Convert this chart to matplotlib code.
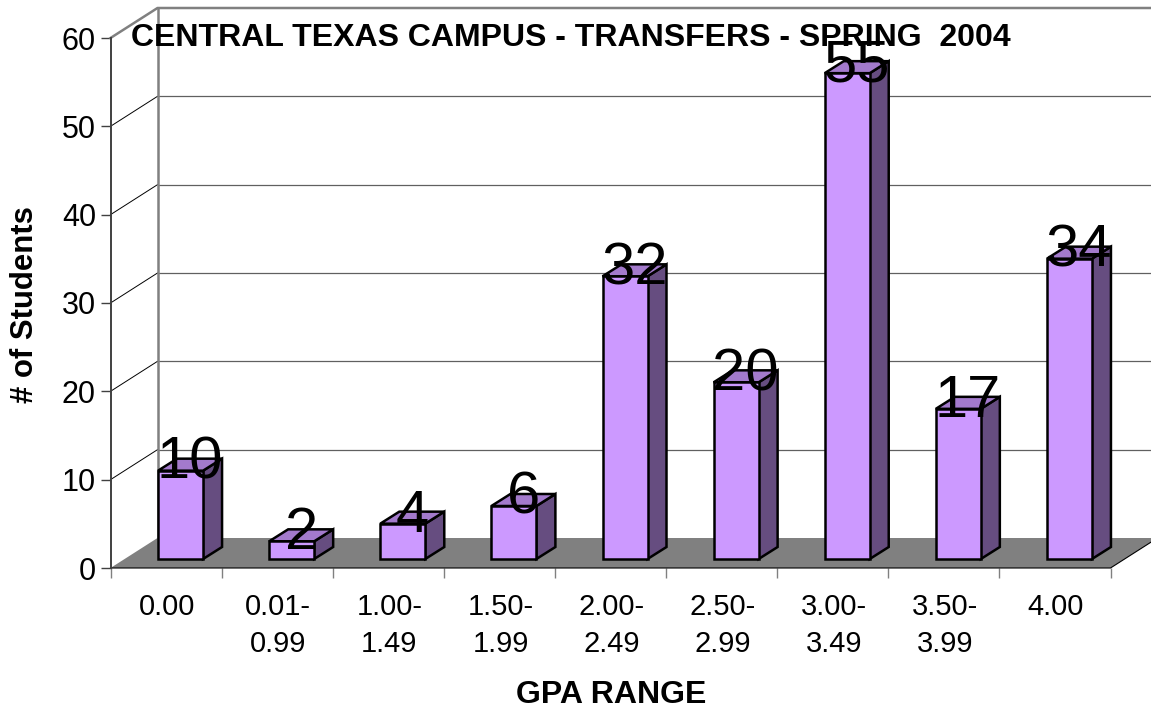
import matplotlib
matplotlib.use("Agg")
import matplotlib.pyplot as plt
from matplotlib.patches import Polygon

plt.rcParams["font.family"] = ["Liberation Sans", "DejaVu Sans"]

gpa_ranges = ["0.00", "0.01-\n0.99", "1.00-\n1.49", "1.50-\n1.99", "2.00-\n2.49",
              "2.50-\n2.99", "3.00-\n3.49", "3.50-\n3.99", "4.00"]
students = [10, 2, 4, 6, 32, 20, 55, 17, 34]
y_ticks = [0, 10, 20, 30, 40, 50, 60]

W, H = 1151, 708
# front plane of the fake 3d box, in pixels
left, right, bottom, top = 110.5, 1110.5, 568.0, 38.0
px_x = 9 / (right - left)
px_y = 60 / (bottom - top)

# offsets in data units
wall_dx, wall_dy = 47 * px_x, 30 * px_y
bar_dx, bar_dy = 19 * px_x, 12 * px_y
lift = 9 * px_y
bar_w = 45 * px_x
bar_off = (14.5 * px_x) + 0.5 - bar_w / 2

fig = plt.figure(figsize=(W / 100, H / 100), dpi=100)
ax = fig.add_axes([left / W, 1 - bottom / H, (right - left) / W, (bottom - top) / H])
ax.set_xlim(0, 9)
ax.set_ylim(0, 60)
ax.patch.set_visible(False)
for name in ["top", "right"]:
    ax.spines[name].set_visible(False)
ax.spines["left"].set_color("#404040")
ax.spines["left"].set_linewidth(1.4)
ax.spines["left"].set_zorder(6)
ax.spines["bottom"].set_visible(False)

# gridlines on back wall and side wall
for t in y_ticks[1:-1]:
    ax.plot([wall_dx, 9 + wall_dx], [t + wall_dy, t + wall_dy], color="#606060", lw=0.9, clip_on=False, zorder=1)
    ax.plot([0, wall_dx], [t, t + wall_dy], color="black", lw=0.7, clip_on=False, zorder=1)

# wall edges
ax.plot([0, wall_dx, 9 + wall_dx], [60, 60 + wall_dy, 60 + wall_dy], color="#808080", lw=1.8, clip_on=False, zorder=2)
ax.plot([wall_dx, wall_dx], [wall_dy, 60 + wall_dy], color="#808080", lw=1.8, clip_on=False, zorder=2)

# floor
ax.add_patch(Polygon([(0, 0), (9, 0), (9 + wall_dx, wall_dy), (wall_dx, wall_dy)], closed=True,
                     facecolor="#808080", edgecolor="none", clip_on=False, zorder=3))
ax.plot([0, 9, 9 + wall_dx], [0, 0, wall_dy], color="black", lw=0.8, clip_on=False, zorder=3)

# bars
xs = [i + bar_off for i in range(len(students))]
for x, v in zip(xs, students):
    y0, y1 = lift, lift + v
    ax.add_patch(Polygon([(x + bar_w, y0), (x + bar_w + bar_dx, y0 + bar_dy),
                          (x + bar_w + bar_dx, y1 + bar_dy), (x + bar_w, y1)], closed=True,
                         facecolor="#664D80", edgecolor="black", lw=1.8, clip_on=False, zorder=4))
    ax.add_patch(Polygon([(x, y1), (x + bar_w, y1), (x + bar_w + bar_dx, y1 + bar_dy), (x + bar_dx, y1 + bar_dy)],
                         closed=True, facecolor="#A37ACC", edgecolor="black", lw=1.8, clip_on=False, zorder=4))
ax.bar(xs, students, width=bar_w, bottom=lift, align="edge", color="#CC99FF", edgecolor="black", lw=1.8,
       clip_on=False, zorder=5)

# value labels
for x, v in zip(xs, students):
    ax.text(x + (bar_w + bar_dx) / 2, lift + v - 8 * px_y, str(v), fontsize=43, ha="center", va="baseline",
            color="black", zorder=8)

# ticks
ax.set_yticks(y_ticks)
ax.tick_params(axis="y", length=7.5, width=1, color="#404040", labelsize=22, pad=3)
ax.set_xticks(range(10))
ax.set_xticklabels([])
ax.set_xticks([i + 0.51 for i in range(9)], gpa_ranges, minor=True)
ax.tick_params(axis="x", which="major", length=7.5, width=1, color="#808080")
ax.tick_params(axis="x", which="minor", length=0, labelsize=21, pad=18)
for lab in ax.get_xticklabels(minor=True):
    lab.set_linespacing(1.42)

fig.text(571 / W, 1 - 38 / H, "CENTRAL TEXAS CAMPUS - TRANSFERS - SPRING  2004", fontsize=23, fontweight="bold",
         ha="center", va="center", zorder=7)
fig.text(611 / W, 1 - 695 / H, "GPA RANGE", fontsize=23, fontweight="bold", ha="center", va="center")
fig.text(25 / W, 1 - 305 / H, "# of Students", fontsize=22.4, fontweight="bold", rotation=90, ha="center", va="center")

fig.savefig("out.png", dpi=100)
